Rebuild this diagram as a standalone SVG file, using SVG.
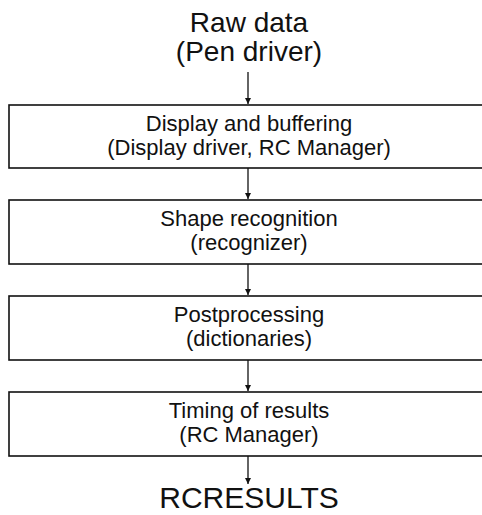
<svg xmlns="http://www.w3.org/2000/svg" width="482" height="515" viewBox="0 0 482 515">
<style>
.t{font-family:"Liberation Sans",Arial,sans-serif;fill:#111;text-anchor:middle}
.big{font-size:28px}
.res{font-size:30px}
.box{font-size:22px}
.b{fill:#fff;stroke:#111;stroke-width:1.6}
.c{stroke:#111;stroke-width:1.3;fill:none}
</style>
<defs>
<marker id="ah" viewBox="0 0 6 12" refX="6" refY="6" markerWidth="6" markerHeight="12" markerUnits="userSpaceOnUse" orient="auto">
<path d="M0,3 L6,6 L0,9 Z" fill="#111"/>
</marker>
</defs>
<rect width="482" height="515" fill="#fff"/>
<g id="raw">
<text class="t big" x="249" y="32">Raw data</text>
<text class="t big" x="249" y="61">(Pen driver)</text>
</g>
<g id="display">
<rect class="b" x="9" y="105" width="480" height="63"/>
<text class="t box" x="249" y="131">Display and buffering</text>
<text class="t box" x="249" y="155">(Display driver, RC Manager)</text>
</g>
<g id="shape">
<rect class="b" x="9" y="200" width="480" height="64"/>
<text class="t box" x="249" y="226">Shape recognition</text>
<text class="t box" x="249" y="250">(recognizer)</text>
</g>
<g id="post">
<rect class="b" x="9" y="296" width="480" height="64"/>
<text class="t box" x="249" y="322">Postprocessing</text>
<text class="t box" x="249" y="346">(dictionaries)</text>
</g>
<g id="timing">
<rect class="b" x="9" y="392" width="480" height="64"/>
<text class="t box" x="249" y="418">Timing of results</text>
<text class="t box" x="249" y="442">(RC Manager)</text>
</g>
<g id="rcresults">
<text class="t res" x="249" y="508">RCRESULTS</text>
</g>
<g id="connectors">
<line class="c" x1="248" y1="72" x2="248" y2="104" marker-end="url(#ah)"/>
<line class="c" x1="248" y1="168" x2="248" y2="199" marker-end="url(#ah)"/>
<line class="c" x1="248" y1="264" x2="248" y2="295" marker-end="url(#ah)"/>
<line class="c" x1="248" y1="360" x2="248" y2="391" marker-end="url(#ah)"/>
<line class="c" x1="248" y1="456" x2="248" y2="484" marker-end="url(#ah)"/>
</g>
</svg>
